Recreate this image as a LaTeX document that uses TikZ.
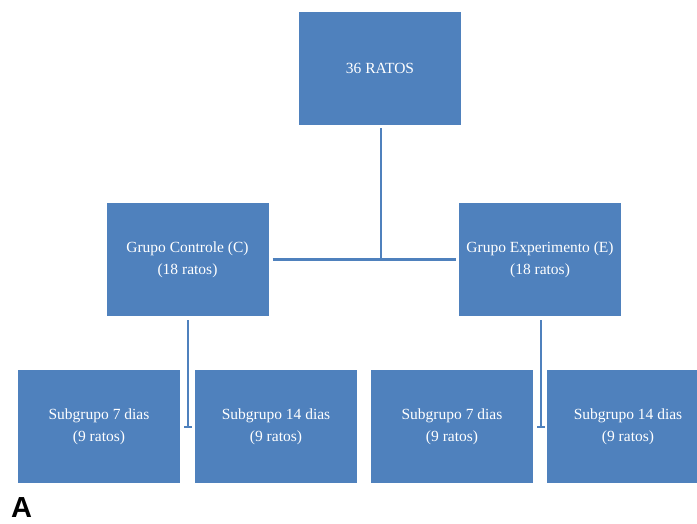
\documentclass[tikz,border=0pt]{standalone}
\usepackage{fontspec}
\setmainfont{Liberation Serif}
\newfontfamily\labelfont{Liberation Sans}
\usetikzlibrary{arrows.meta}
\definecolor{boxblue}{HTML}{4F81BD}
\tikzset{
  grupobox/.style={fill=boxblue, text=white, minimum width=162pt, minimum height=113pt,
    inner sep=0pt, align=center, font=\fontsize{15.5}{22}\selectfont},
  ligacao/.style={draw=boxblue, line width=2.8pt},
}
\begin{document}
\begin{tikzpicture}[x=1pt, y=-1pt]
  \useasboundingbox (0,0) rectangle (697,524);
  \node[grupobox] (total) at (380,68.5) {36 RATOS};
  \node[grupobox] (controle) at (187.5,259.5) {Grupo Controle (C)\\(18 ratos)};
  \node[grupobox] (experimento) at (540,259.5) {Grupo Experimento (E)\\(18 ratos)};
  \node[grupobox] (c7) at (99,426.5) {Subgrupo 7 dias\\(9 ratos)};
  \node[grupobox] (c14) at (276,426.5) {Subgrupo 14 dias\\(9 ratos)};
  \node[grupobox] (e7) at (452,426.5) {Subgrupo 7 dias\\(9 ratos)};
  \node[grupobox] (e14) at (628,426.5) {Subgrupo 14 dias\\(9 ratos)};
  % the bar ends sit in the gap between each pair of subgroups
  \coordinate (juncao) at (381,259.5);
  \coordinate (fimC) at (188,428);
  \coordinate (fimE) at (541,428);
  \draw[ligacao] ([xshift=4pt]controle.east) -- ([xshift=-3pt]experimento.west);
  \draw[ligacao] ([xshift=1pt,yshift=-3pt]total.south) -- (juncao);
  \draw[ligacao, -{Bar[width=8pt,line width=2pt]}] ([xshift=0.5pt,yshift=-4pt]controle.south) -- (fimC);
  \draw[ligacao, -{Bar[width=8pt,line width=2pt]}] ([xshift=1pt,yshift=-4pt]experimento.south) -- (fimE);
  \node[font=\labelfont\bfseries\fontsize{29}{29}\selectfont, anchor=base west, inner sep=0pt] (rotulo) at (11,517) {A};
\end{tikzpicture}
\end{document}
